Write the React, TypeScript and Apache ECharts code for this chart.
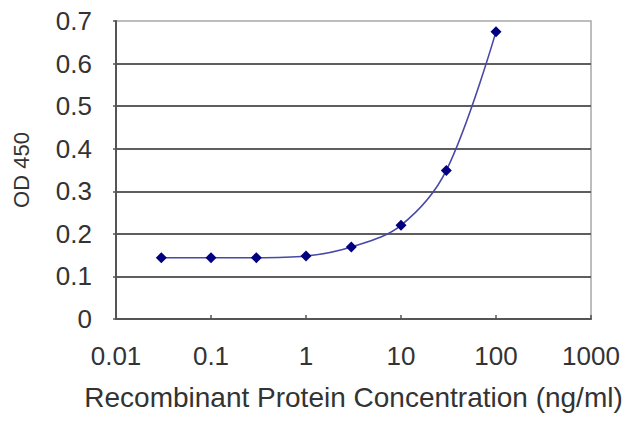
import React, { useEffect, useRef } from "react";
import * as echarts from "echarts";

const concentrations = [0.03, 0.1, 0.3, 1, 3, 10, 30, 100];
const odValues = [0.144, 0.144, 0.144, 0.148, 0.169, 0.22, 0.349, 0.675];
const xTickLabels = ["0.01", "0.1", "1", "10", "100", "1000"];
const yTickLabels = ["0", "0.1", "0.2", "0.3", "0.4", "0.5", "0.6", "0.7"];
const xTitle = "Recombinant Protein Concentration (ng/ml)";
const yTitle = "OD 450";

const FONT = "'Liberation Sans', Arial, sans-serif";

export default function App() {
  const ref = useRef<HTMLDivElement>(null);
  useEffect(() => {
    if (!ref.current) return;
    const chart = echarts.init(ref.current, undefined, { renderer: "svg" });
    chart.setOption({
      animation: false,
      backgroundColor: "#ffffff",
      grid: {
        left: 116,
        right: 49,
        top: 21,
        bottom: 108,
        show: true,
        borderColor: "#a8a8a8",
        borderWidth: 1.5,
        backgroundColor: "transparent",
      },
      xAxis: {
        type: "log",
        logBase: 10,
        min: 0.01,
        max: 1000,
        name: xTitle,
        nameLocation: "middle",
        nameGap: 64,
        nameTextStyle: { fontFamily: FONT, fontSize: 28, color: "#333333" },
        axisLine: { show: true, lineStyle: { color: "#555555", width: 2 } },
        axisTick: { show: true, inside: true, length: 4, lineStyle: { color: "#555555", width: 1.5 } },
        axisLabel: {
          fontFamily: FONT,
          fontSize: 26,
          color: "#333333",
          margin: 24,
          formatter: (v: number) => xTickLabels[Math.round(Math.log10(v)) + 2] ?? "",
        },
        splitLine: { show: false },
        minorTick: { show: false },
      },
      yAxis: {
        type: "value",
        min: 0,
        max: 0.7,
        interval: 0.1,
        name: yTitle,
        nameLocation: "middle",
        nameGap: 84,
        nameRotate: 90,
        nameTextStyle: { fontFamily: FONT, fontSize: 22, color: "#333333" },
        axisLine: { show: true, lineStyle: { color: "#555555", width: 2 } },
        axisTick: { show: true, length: 3, lineStyle: { color: "#555555", width: 1.5 } },
        axisLabel: {
          fontFamily: FONT,
          fontSize: 26,
          color: "#333333",
          margin: 24,
          formatter: (v: number) => yTickLabels[Math.round(v * 10)] ?? "",
        },
        splitLine: {
          show: true,
          showMinLine: false,
          showMaxLine: false,
          lineStyle: { color: "#5e5e5e", width: 2 },
        },
      },
      series: [
        {
          type: "line",
          data: concentrations.map((c, i) => [c, odValues[i]]),
          smooth: 0.35,
          symbol: "diamond",
          symbolSize: 11,
          lineStyle: { color: "#4848a6", width: 1.6 },
          itemStyle: { color: "#000080" },
        },
      ],
    });
    return () => chart.dispose();
  }, []);
  return (
    <div
      ref={ref}
      style={{ position: "fixed", left: 0, top: 0, width: 640, height: 427 }}
    />
  );
}
